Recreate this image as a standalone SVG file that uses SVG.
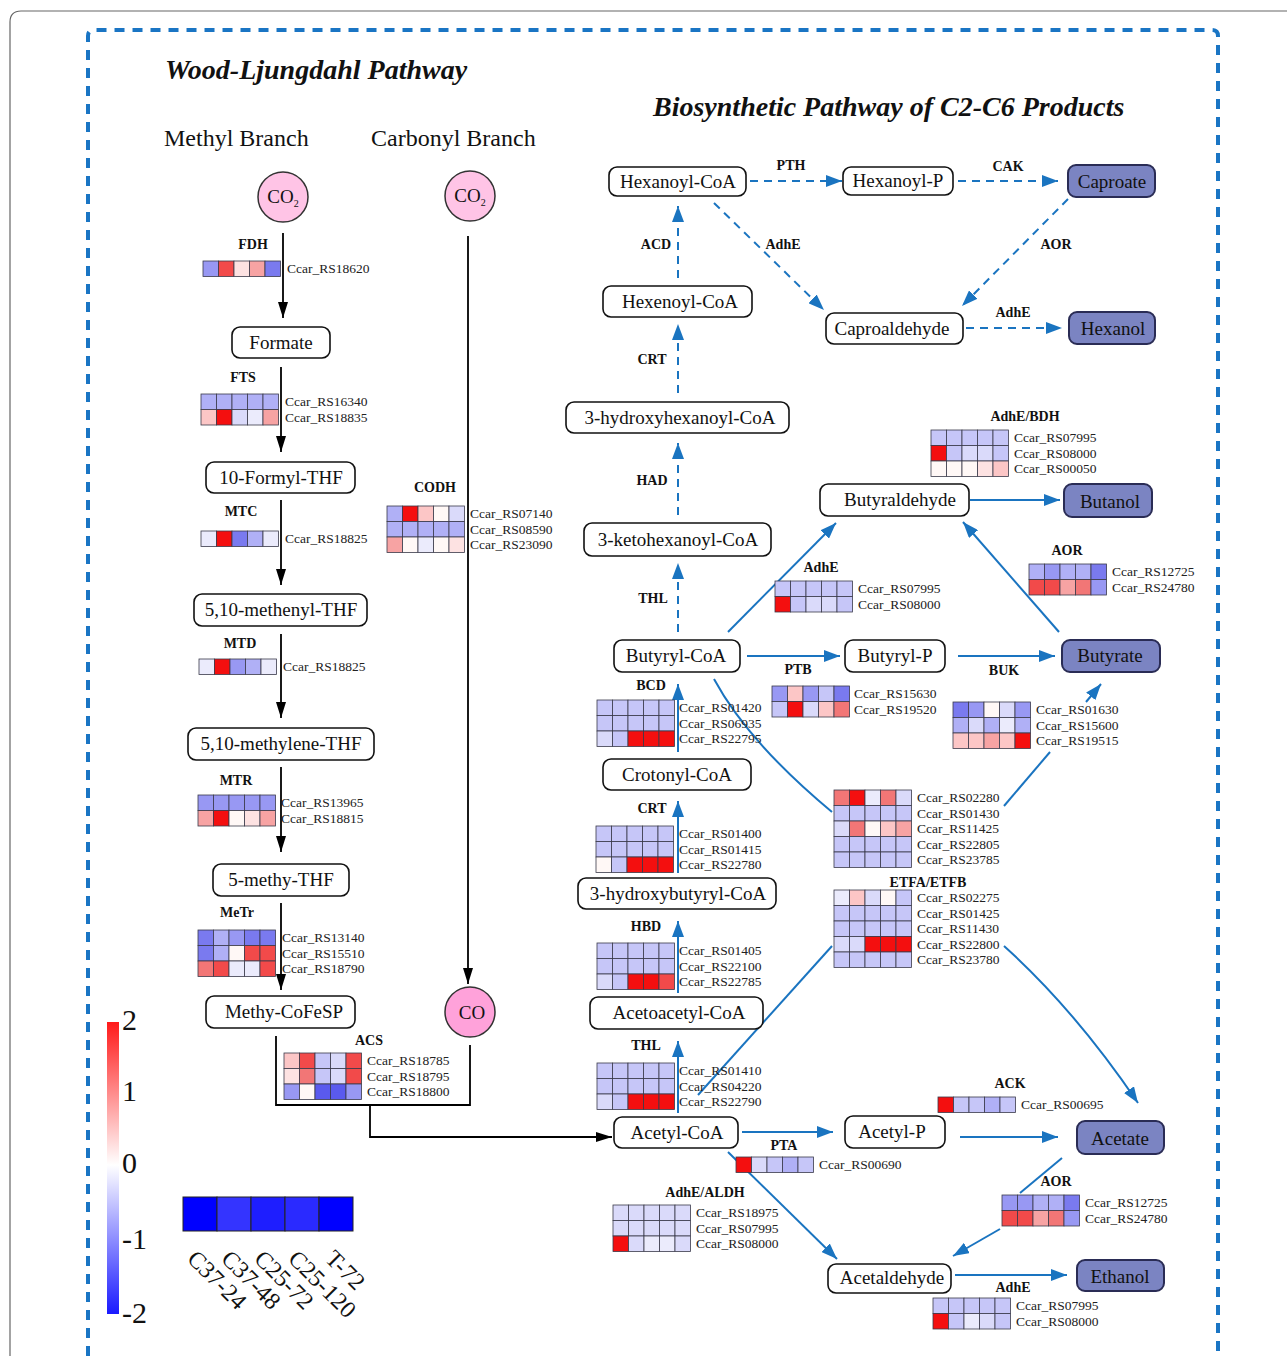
<svg xmlns="http://www.w3.org/2000/svg" width="1287" height="1356" viewBox="0 0 1287 1356">
<style>
.nt{font-family:"Liberation Serif",serif;font-size:19px;text-anchor:middle;fill:#111}
.box{fill:#fff;stroke:#111;stroke-width:1.6}
.prod{fill:#7b84c2;stroke:#2a2c55;stroke-width:2}
.g{font-family:"Liberation Serif",serif;font-size:13.5px;fill:#222}
.e{font-family:"Liberation Serif",serif;font-size:14px;font-weight:bold;text-anchor:middle;fill:#111}
.ttl{font-family:"Liberation Serif",serif;font-size:28px;font-weight:bold;font-style:italic;fill:#111}
.br{font-family:"Liberation Serif",serif;font-size:24px;fill:#111}
.blk{stroke:#000;stroke-width:1.8;fill:none}
.bl{stroke:#1a74c0;stroke-width:2;fill:none}
.dsh{stroke-dasharray:8 6}
.hm rect{stroke:#3a3a4a;stroke-width:0.8}
.R{fill:#f40f0f}.r1{fill:#f24a4a}.r2{fill:#f27676}.r3{fill:#f7a3a3}.r4{fill:#fcc6c6}.r5{fill:#fde2e2}
.w{fill:#fff8f6}.b5{fill:#ebebfc}.b4{fill:#dadafa}.b3{fill:#c6c6f8}.b2{fill:#b0b0f6}.b1{fill:#9898f3}.b0{fill:#7a7aef}.bb{fill:#5a5aee}
.leg{font-family:"Liberation Serif",serif;font-size:30px;fill:#111}
.lg{font-family:"Liberation Serif",serif;font-size:24px;fill:#111}
</style>
<defs>
<marker id="ak" viewBox="0 0 16 10" refX="16" refY="5" markerWidth="16" markerHeight="10" orient="auto" markerUnits="userSpaceOnUse"><path d="M0,0 L16,5 L0,10 z" fill="#000"/></marker>
<marker id="ab" viewBox="0 0 16 12" refX="16" refY="6" markerWidth="16" markerHeight="12" orient="auto" markerUnits="userSpaceOnUse"><path d="M0,0 L16,6 L0,12 z" fill="#1a74c0"/></marker>
<linearGradient id="lgd" x1="0" y1="0" x2="0" y2="1"><stop offset="0" stop-color="#ff1a1a"/><stop offset="0.49" stop-color="#ffffff"/><stop offset="1" stop-color="#1a1aff"/></linearGradient>
</defs>
<rect width="1287" height="1356" fill="#fff"/>
<path d="M10,1356 V22 Q10,11 21,11 H1287" fill="none" stroke="#666" stroke-width="1.2"/>
<path d="M88,1356 V36 Q88,30 94,30 H1212 Q1218,30 1218,36 V1356" fill="none" stroke="#1a75c4" stroke-width="4" stroke-dasharray="10 8"/>

<text class="ttl" x="165" y="79">Wood-Ljungdahl Pathway</text>
<text class="ttl" x="653" y="116">Biosynthetic Pathway of C2-C6 Products</text>
<text class="br" x="164" y="146">Methyl Branch</text>
<text class="br" x="371" y="146">Carbonyl Branch</text>

<g id="connectors">
<path class="blk" d="M283,233 V318" marker-end="url(#ak)"/>
<path class="blk" d="M281,367 V452" marker-end="url(#ak)"/>
<path class="blk" d="M281,500 V585" marker-end="url(#ak)"/>
<path class="blk" d="M281,634 V718" marker-end="url(#ak)"/>
<path class="blk" d="M281,767 V852" marker-end="url(#ak)"/>
<path class="blk" d="M281,903 V990" marker-end="url(#ak)"/>
<path class="blk" d="M468,236 V984" marker-end="url(#ak)"/>
<path class="blk" d="M276,1036 V1105 H470 V1045"/>
<path class="blk" d="M370,1105 V1137 H612" marker-end="url(#ak)"/>

<path class="bl dsh" d="M750,181 H842" marker-end="url(#ab)"/>
<path class="bl dsh" d="M958,181 H1058" marker-end="url(#ab)"/>
<path class="bl dsh" d="M1068,199 L962,306" marker-end="url(#ab)"/>
<path class="bl dsh" d="M714,203 L824,310" marker-end="url(#ab)"/>
<path class="bl dsh" d="M966,328 H1062" marker-end="url(#ab)"/>
<path class="bl dsh" d="M678,278 V206" marker-end="url(#ab)"/>
<path class="bl dsh" d="M678,393 V324" marker-end="url(#ab)"/>
<path class="bl dsh" d="M678,515 V443" marker-end="url(#ab)"/>
<path class="bl dsh" d="M678,632 V563" marker-end="url(#ab)"/>

<path class="bl" d="M728,632 L836,523" marker-end="url(#ab)"/>
<path class="bl" d="M1059,632 L963,522" marker-end="url(#ab)"/>
<path class="bl" d="M970,500 H1060" marker-end="url(#ab)"/>
<path class="bl" d="M747,656 H840" marker-end="url(#ab)"/>
<path class="bl" d="M958,656 H1055" marker-end="url(#ab)"/>
<path class="bl" d="M1004,806 L1050,752"/>
<path class="bl" d="M1086,702 L1101,684" marker-end="url(#ab)"/>
<path class="bl" d="M714,679 Q748,742 832,812"/>
<path class="bl" d="M678,752 V684" marker-end="url(#ab)"/>
<path class="bl" d="M678,873 V801" marker-end="url(#ab)"/>
<path class="bl" d="M678,993 V921" marker-end="url(#ab)"/>
<path class="bl" d="M678,1113 V1041" marker-end="url(#ab)"/>
<path class="bl" d="M698,1095 L832,946"/>
<path class="bl" d="M1004,946 Q1075,1010 1138,1103" marker-end="url(#ab)"/>
<path class="bl" d="M742,1132 H833" marker-end="url(#ab)"/>
<path class="bl" d="M960,1137 H1058" marker-end="url(#ab)"/>
<path class="bl" d="M1062,1158 L1020,1193"/>
<path class="bl" d="M1000,1229 L953,1256" marker-end="url(#ab)"/>
<path class="bl" d="M728,1152 L837,1259" marker-end="url(#ab)"/>
<path class="bl" d="M955,1275 H1067" marker-end="url(#ab)"/>
</g>

<g class="e">
<text x="791" y="170">PTH</text>
<text x="1008" y="171">CAK</text>
<text x="1056" y="249">AOR</text>
<text x="783" y="249">AdhE</text>
<text x="1013" y="317">AdhE</text>
<text x="656" y="249">ACD</text>
<text x="652" y="364">CRT</text>
<text x="652" y="485">HAD</text>
<text x="653" y="603">THL</text>
</g>

<!-- nodes -->
<g id="co2-methyl"><circle cx="283" cy="197" r="25" fill="#ffc4e6" stroke="#333" stroke-width="1.5"/><text class="nt" x="283" y="203">CO<tspan font-size="10" dy="4">2</tspan></text></g>
<g id="co2-carbonyl"><circle cx="470" cy="196" r="25" fill="#ffc4e6" stroke="#333" stroke-width="1.5"/><text class="nt" x="470" y="202">CO<tspan font-size="10" dy="4">2</tspan></text></g>
<g id="co"><circle cx="470" cy="1012" r="25" fill="#ffa2da" stroke="#333" stroke-width="1.5"/><text class="nt" x="472" y="1019">CO</text></g>
<g id="formate"><rect class="box" x="232" y="327" width="98" height="31" rx="8"/><text class="nt" x="281" y="349">Formate</text></g>
<g id="formyl-thf"><rect class="box" x="206" y="462" width="149" height="31" rx="8"/><text class="nt" x="281" y="484">10-Formyl-THF</text></g>
<g id="methenyl-thf"><rect class="box" x="194" y="594" width="173" height="32" rx="8"/><text class="nt" x="281" y="616">5,10-methenyl-THF</text></g>
<g id="methylene-thf"><rect class="box" x="188" y="728" width="186" height="32" rx="8"/><text class="nt" x="281" y="750">5,10-methylene-THF</text></g>
<g id="methy-thf"><rect class="box" x="213" y="864" width="136" height="32" rx="8"/><text class="nt" x="281" y="886">5-methy-THF</text></g>
<g id="methy-cofesp"><rect class="box" x="206" y="996" width="149" height="32" rx="8"/><text class="nt" x="284" y="1018">Methy-CoFeSP</text></g>

<g id="hexanoyl-coa"><rect class="box" x="609" y="167" width="137" height="29" rx="8"/><text class="nt" x="678" y="188">Hexanoyl-CoA</text></g>
<g id="hexanoyl-p"><rect class="box" x="843" y="167" width="110" height="28" rx="8"/><text class="nt" x="898" y="187">Hexanoyl-P</text></g>
<g id="caproate"><rect class="prod" x="1068" y="165" width="87" height="32" rx="8"/><text class="nt" x="1112" y="188">Caproate</text></g>
<g id="hexenoyl-coa"><rect class="box" x="603" y="286" width="149" height="31" rx="8"/><text class="nt" x="680" y="308">Hexenoyl-CoA</text></g>
<g id="caproaldehyde"><rect class="box" x="826" y="313" width="137" height="31" rx="8"/><text class="nt" x="892" y="335">Caproaldehyde</text></g>
<g id="hexanol"><rect class="prod" x="1069" y="312" width="86" height="32" rx="8"/><text class="nt" x="1113" y="335">Hexanol</text></g>
<g id="hydroxyhexanoyl-coa"><rect class="box" x="566" y="402" width="223" height="31" rx="8"/><text class="nt" x="680" y="424">3-hydroxyhexanoyl-CoA</text></g>
<g id="ketohexanoyl-coa"><rect class="box" x="584" y="523" width="187" height="33" rx="8"/><text class="nt" x="678" y="546">3-ketohexanoyl-CoA</text></g>
<g id="butyraldehyde"><rect class="box" x="820" y="484" width="149" height="32" rx="8"/><text class="nt" x="900" y="506">Butyraldehyde</text></g>
<g id="butanol"><rect class="prod" x="1064" y="484" width="88" height="33" rx="8"/><text class="nt" x="1110" y="508">Butanol</text></g>
<g id="butyryl-coa"><rect class="box" x="614" y="640" width="126" height="32" rx="8"/><text class="nt" x="676" y="662">Butyryl-CoA</text></g>
<g id="butyryl-p"><rect class="box" x="845" y="640" width="100" height="32" rx="8"/><text class="nt" x="895" y="662">Butyryl-P</text></g>
<g id="butyrate"><rect class="prod" x="1062" y="640" width="98" height="32" rx="8"/><text class="nt" x="1110" y="662">Butyrate</text></g>
<g id="crotonyl-coa"><rect class="box" x="603" y="759" width="148" height="31" rx="8"/><text class="nt" x="677" y="781">Crotonyl-CoA</text></g>
<g id="hydroxybutyryl-coa"><rect class="box" x="578" y="878" width="198" height="31" rx="8"/><text class="nt" x="678" y="900">3-hydroxybutyryl-CoA</text></g>
<g id="acetoacetyl-coa"><rect class="box" x="590" y="997" width="173" height="32" rx="8"/><text class="nt" x="679" y="1019">Acetoacetyl-CoA</text></g>
<g id="acetyl-coa"><rect class="box" x="614" y="1117" width="124" height="31" rx="8"/><text class="nt" x="677" y="1139">Acetyl-CoA</text></g>
<g id="acetyl-p"><rect class="box" x="845" y="1116" width="100" height="32" rx="8"/><text class="nt" x="892" y="1138">Acetyl-P</text></g>
<g id="acetate"><rect class="prod" x="1077" y="1121" width="87" height="33" rx="8"/><text class="nt" x="1120" y="1145">Acetate</text></g>
<g id="acetaldehyde"><rect class="box" x="828" y="1264" width="123" height="29" rx="8"/><text class="nt" x="892" y="1284">Acetaldehyde</text></g>
<g id="ethanol"><rect class="prod" x="1077" y="1260" width="87" height="31" rx="8"/><text class="nt" x="1120" y="1283">Ethanol</text></g>

<!-- heatmaps -->
<g id="hm-fdh" class="hm" transform="translate(203,261)">
<text class="e" x="50" y="-12">FDH</text>
<rect x="0" y="0" width="15.5" height="15.5" class="b1"/><rect x="15.5" y="0" width="15.5" height="15.5" class="r1"/><rect x="31" y="0" width="15.5" height="15.5" class="r5"/><rect x="46.5" y="0" width="15.5" height="15.5" class="r3"/><rect x="62" y="0" width="15.5" height="15.5" class="b0"/>
<text class="g" x="84" y="12">Ccar_RS18620</text>
</g>
<g id="hm-fts" class="hm" transform="translate(201,394)">
<text class="e" x="42" y="-12">FTS</text>
<rect x="0" y="0" width="15.5" height="15.5" class="b2"/><rect x="15.5" y="0" width="15.5" height="15.5" class="b2"/><rect x="31" y="0" width="15.5" height="15.5" class="b2"/><rect x="46.5" y="0" width="15.5" height="15.5" class="b2"/><rect x="62" y="0" width="15.5" height="15.5" class="b2"/>
<rect x="0" y="15.5" width="15.5" height="15.5" class="r4"/><rect x="15.5" y="15.5" width="15.5" height="15.5" class="R"/><rect x="31" y="15.5" width="15.5" height="15.5" class="b4"/><rect x="46.5" y="15.5" width="15.5" height="15.5" class="b5"/><rect x="62" y="15.5" width="15.5" height="15.5" class="r3"/>
<text class="g" x="84" y="12">Ccar_RS16340</text><text class="g" x="84" y="27.5">Ccar_RS18835</text>
</g>
<g id="hm-mtc" class="hm" transform="translate(201,531)">
<text class="e" x="40" y="-15">MTC</text>
<rect x="0" y="0" width="15.5" height="15.5" class="b5"/><rect x="15.5" y="0" width="15.5" height="15.5" class="R"/><rect x="31" y="0" width="15.5" height="15.5" class="b0"/><rect x="46.5" y="0" width="15.5" height="15.5" class="b2"/><rect x="62" y="0" width="15.5" height="15.5" class="b5"/>
<text class="g" x="84" y="12">Ccar_RS18825</text>
</g>
<g id="hm-codh" class="hm" transform="translate(387,506)">
<text class="e" x="48" y="-14">CODH</text>
<rect x="0" y="0" width="15.5" height="15.5" class="b2"/><rect x="15.5" y="0" width="15.5" height="15.5" class="R"/><rect x="31" y="0" width="15.5" height="15.5" class="r4"/><rect x="46.5" y="0" width="15.5" height="15.5" class="w"/><rect x="62" y="0" width="15.5" height="15.5" class="b4"/>
<rect x="0" y="15.5" width="15.5" height="15.5" class="b2"/><rect x="15.5" y="15.5" width="15.5" height="15.5" class="b2"/><rect x="31" y="15.5" width="15.5" height="15.5" class="b2"/><rect x="46.5" y="15.5" width="15.5" height="15.5" class="b2"/><rect x="62" y="15.5" width="15.5" height="15.5" class="b2"/>
<rect x="0" y="31" width="15.5" height="15.5" class="r3"/><rect x="15.5" y="31" width="15.5" height="15.5" class="w"/><rect x="31" y="31" width="15.5" height="15.5" class="b5"/><rect x="46.5" y="31" width="15.5" height="15.5" class="w"/><rect x="62" y="31" width="15.5" height="15.5" class="r5"/>
<text class="g" x="83" y="12">Ccar_RS07140</text><text class="g" x="83" y="27.5">Ccar_RS08590</text><text class="g" x="83" y="43">Ccar_RS23090</text>
</g>
<g id="hm-mtd" class="hm" transform="translate(199,659)">
<text class="e" x="41" y="-11">MTD</text>
<rect x="0" y="0" width="15.5" height="15.5" class="b5"/><rect x="15.5" y="0" width="15.5" height="15.5" class="R"/><rect x="31" y="0" width="15.5" height="15.5" class="b1"/><rect x="46.5" y="0" width="15.5" height="15.5" class="b2"/><rect x="62" y="0" width="15.5" height="15.5" class="b5"/>
<text class="g" x="84" y="12">Ccar_RS18825</text>
</g>
<g id="hm-mtr" class="hm" transform="translate(198,795)">
<text class="e" x="38" y="-10">MTR</text>
<rect x="0" y="0" width="15.5" height="15.5" class="b1"/><rect x="15.5" y="0" width="15.5" height="15.5" class="b1"/><rect x="31" y="0" width="15.5" height="15.5" class="b1"/><rect x="46.5" y="0" width="15.5" height="15.5" class="b1"/><rect x="62" y="0" width="15.5" height="15.5" class="b1"/>
<rect x="0" y="15.5" width="15.5" height="15.5" class="r3"/><rect x="15.5" y="15.5" width="15.5" height="15.5" class="R"/><rect x="31" y="15.5" width="15.5" height="15.5" class="w"/><rect x="46.5" y="15.5" width="15.5" height="15.5" class="r5"/><rect x="62" y="15.5" width="15.5" height="15.5" class="r3"/>
<text class="g" x="83" y="12">Ccar_RS13965</text><text class="g" x="83" y="27.5">Ccar_RS18815</text>
</g>
<g id="hm-metr" class="hm" transform="translate(198,930)">
<text class="e" x="39" y="-13">MeTr</text>
<rect x="0" y="0" width="15.5" height="15.5" class="b0"/><rect x="15.5" y="0" width="15.5" height="15.5" class="b2"/><rect x="31" y="0" width="15.5" height="15.5" class="b1"/><rect x="46.5" y="0" width="15.5" height="15.5" class="b0"/><rect x="62" y="0" width="15.5" height="15.5" class="b0"/>
<rect x="0" y="15.5" width="15.5" height="15.5" class="b0"/><rect x="15.5" y="15.5" width="15.5" height="15.5" class="b2"/><rect x="31" y="15.5" width="15.5" height="15.5" class="w"/><rect x="46.5" y="15.5" width="15.5" height="15.5" class="r1"/><rect x="62" y="15.5" width="15.5" height="15.5" class="r1"/>
<rect x="0" y="31" width="15.5" height="15.5" class="r2"/><rect x="15.5" y="31" width="15.5" height="15.5" class="r1"/><rect x="31" y="31" width="15.5" height="15.5" class="b5"/><rect x="46.5" y="31" width="15.5" height="15.5" class="b5"/><rect x="62" y="31" width="15.5" height="15.5" class="r1"/>
<text class="g" x="84" y="12">Ccar_RS13140</text><text class="g" x="84" y="27.5">Ccar_RS15510</text><text class="g" x="84" y="43">Ccar_RS18790</text>
</g>
<g id="hm-acs" class="hm" transform="translate(284,1053)">
<text class="e" x="85" y="-8">ACS</text>
<rect x="0" y="0" width="15.5" height="15.5" class="r4"/><rect x="15.5" y="0" width="15.5" height="15.5" class="r1"/><rect x="31" y="0" width="15.5" height="15.5" class="b3"/><rect x="46.5" y="0" width="15.5" height="15.5" class="b4"/><rect x="62" y="0" width="15.5" height="15.5" class="r1"/>
<rect x="0" y="15.5" width="15.5" height="15.5" class="r5"/><rect x="15.5" y="15.5" width="15.5" height="15.5" class="r2"/><rect x="31" y="15.5" width="15.5" height="15.5" class="b3"/><rect x="46.5" y="15.5" width="15.5" height="15.5" class="b4"/><rect x="62" y="15.5" width="15.5" height="15.5" class="r1"/>
<rect x="0" y="31" width="15.5" height="15.5" class="b1"/><rect x="15.5" y="31" width="15.5" height="15.5" class="w"/><rect x="31" y="31" width="15.5" height="15.5" class="bb"/><rect x="46.5" y="31" width="15.5" height="15.5" class="bb"/><rect x="62" y="31" width="15.5" height="15.5" class="b1"/>
<text class="g" x="83" y="12">Ccar_RS18785</text><text class="g" x="83" y="27.5">Ccar_RS18795</text><text class="g" x="83" y="43">Ccar_RS18800</text>
</g>
<g id="hm-bdh" class="hm" transform="translate(931,430)">
<text class="e" x="94" y="-9">AdhE/BDH</text>
<rect x="0" y="0" width="15.5" height="15.5" class="b3"/><rect x="15.5" y="0" width="15.5" height="15.5" class="b3"/><rect x="31" y="0" width="15.5" height="15.5" class="b3"/><rect x="46.5" y="0" width="15.5" height="15.5" class="b3"/><rect x="62" y="0" width="15.5" height="15.5" class="b3"/>
<rect x="0" y="15.5" width="15.5" height="15.5" class="R"/><rect x="15.5" y="15.5" width="15.5" height="15.5" class="b3"/><rect x="31" y="15.5" width="15.5" height="15.5" class="b4"/><rect x="46.5" y="15.5" width="15.5" height="15.5" class="b4"/><rect x="62" y="15.5" width="15.5" height="15.5" class="b3"/>
<rect x="0" y="31" width="15.5" height="15.5" class="w"/><rect x="15.5" y="31" width="15.5" height="15.5" class="w"/><rect x="31" y="31" width="15.5" height="15.5" class="w"/><rect x="46.5" y="31" width="15.5" height="15.5" class="r5"/><rect x="62" y="31" width="15.5" height="15.5" class="r4"/>
<text class="g" x="83" y="12">Ccar_RS07995</text><text class="g" x="83" y="27.5">Ccar_RS08000</text><text class="g" x="83" y="43">Ccar_RS00050</text>
</g>
<g id="hm-adhe-bu" class="hm" transform="translate(775,581)">
<text class="e" x="46" y="-9">AdhE</text>
<rect x="0" y="0" width="15.5" height="15.5" class="b3"/><rect x="15.5" y="0" width="15.5" height="15.5" class="b3"/><rect x="31" y="0" width="15.5" height="15.5" class="b3"/><rect x="46.5" y="0" width="15.5" height="15.5" class="b3"/><rect x="62" y="0" width="15.5" height="15.5" class="b3"/>
<rect x="0" y="15.5" width="15.5" height="15.5" class="R"/><rect x="15.5" y="15.5" width="15.5" height="15.5" class="b3"/><rect x="31" y="15.5" width="15.5" height="15.5" class="b4"/><rect x="46.5" y="15.5" width="15.5" height="15.5" class="b4"/><rect x="62" y="15.5" width="15.5" height="15.5" class="b3"/>
<text class="g" x="83" y="12">Ccar_RS07995</text><text class="g" x="83" y="27.5">Ccar_RS08000</text>
</g>
<g id="hm-aor-bu" class="hm" transform="translate(1029,564)">
<text class="e" x="38" y="-9">AOR</text>
<rect x="0" y="0" width="15.5" height="15.5" class="b2"/><rect x="15.5" y="0" width="15.5" height="15.5" class="b1"/><rect x="31" y="0" width="15.5" height="15.5" class="b2"/><rect x="46.5" y="0" width="15.5" height="15.5" class="b2"/><rect x="62" y="0" width="15.5" height="15.5" class="b0"/>
<rect x="0" y="15.5" width="15.5" height="15.5" class="r1"/><rect x="15.5" y="15.5" width="15.5" height="15.5" class="r1"/><rect x="31" y="15.5" width="15.5" height="15.5" class="r3"/><rect x="46.5" y="15.5" width="15.5" height="15.5" class="r2"/><rect x="62" y="15.5" width="15.5" height="15.5" class="b1"/>
<text class="g" x="83" y="12">Ccar_RS12725</text><text class="g" x="83" y="27.5">Ccar_RS24780</text>
</g>
<g id="hm-ptb" class="hm" transform="translate(772,686)">
<text class="e" x="26" y="-12">PTB</text>
<rect x="0" y="0" width="15.5" height="15.5" class="b1"/><rect x="15.5" y="0" width="15.5" height="15.5" class="r4"/><rect x="31" y="0" width="15.5" height="15.5" class="b1"/><rect x="46.5" y="0" width="15.5" height="15.5" class="b3"/><rect x="62" y="0" width="15.5" height="15.5" class="b0"/>
<rect x="0" y="15.5" width="15.5" height="15.5" class="b3"/><rect x="15.5" y="15.5" width="15.5" height="15.5" class="R"/><rect x="31" y="15.5" width="15.5" height="15.5" class="b4"/><rect x="46.5" y="15.5" width="15.5" height="15.5" class="r4"/><rect x="62" y="15.5" width="15.5" height="15.5" class="r2"/>
<text class="g" x="82" y="12">Ccar_RS15630</text><text class="g" x="82" y="27.5">Ccar_RS19520</text>
</g>
<g id="hm-buk" class="hm" transform="translate(953,702)">
<text class="e" x="51" y="-27">BUK</text>
<rect x="0" y="0" width="15.5" height="15.5" class="b0"/><rect x="15.5" y="0" width="15.5" height="15.5" class="b1"/><rect x="31" y="0" width="15.5" height="15.5" class="w"/><rect x="46.5" y="0" width="15.5" height="15.5" class="b4"/><rect x="62" y="0" width="15.5" height="15.5" class="b1"/>
<rect x="0" y="15.5" width="15.5" height="15.5" class="b2"/><rect x="15.5" y="15.5" width="15.5" height="15.5" class="b4"/><rect x="31" y="15.5" width="15.5" height="15.5" class="b2"/><rect x="46.5" y="15.5" width="15.5" height="15.5" class="b5"/><rect x="62" y="15.5" width="15.5" height="15.5" class="b2"/>
<rect x="0" y="31" width="15.5" height="15.5" class="r4"/><rect x="15.5" y="31" width="15.5" height="15.5" class="r4"/><rect x="31" y="31" width="15.5" height="15.5" class="r3"/><rect x="46.5" y="31" width="15.5" height="15.5" class="r4"/><rect x="62" y="31" width="15.5" height="15.5" class="R"/>
<text class="g" x="83" y="12">Ccar_RS01630</text><text class="g" x="83" y="27.5">Ccar_RS15600</text><text class="g" x="83" y="43">Ccar_RS19515</text>
</g>
<g id="hm-bcd" class="hm" transform="translate(597,700)">
<text class="e" x="54" y="-10">BCD</text>
<rect x="0" y="0" width="15.5" height="15.5" class="b3"/><rect x="15.5" y="0" width="15.5" height="15.5" class="b3"/><rect x="31" y="0" width="15.5" height="15.5" class="b3"/><rect x="46.5" y="0" width="15.5" height="15.5" class="b3"/><rect x="62" y="0" width="15.5" height="15.5" class="b3"/>
<rect x="0" y="15.5" width="15.5" height="15.5" class="b3"/><rect x="15.5" y="15.5" width="15.5" height="15.5" class="b3"/><rect x="31" y="15.5" width="15.5" height="15.5" class="b3"/><rect x="46.5" y="15.5" width="15.5" height="15.5" class="b3"/><rect x="62" y="15.5" width="15.5" height="15.5" class="b3"/>
<rect x="0" y="31" width="15.5" height="15.5" class="b4"/><rect x="15.5" y="31" width="15.5" height="15.5" class="b3"/><rect x="31" y="31" width="15.5" height="15.5" class="R"/><rect x="46.5" y="31" width="15.5" height="15.5" class="R"/><rect x="62" y="31" width="15.5" height="15.5" class="R"/>
<text class="g" x="82" y="12">Ccar_RS01420</text><text class="g" x="82" y="27.5">Ccar_RS06935</text><text class="g" x="82" y="43">Ccar_RS22795</text>
</g>
<g id="hm-crt" class="hm" transform="translate(596,826)">
<text class="e" x="56" y="-13">CRT</text>
<rect x="0" y="0" width="15.5" height="15.5" class="b3"/><rect x="15.5" y="0" width="15.5" height="15.5" class="b3"/><rect x="31" y="0" width="15.5" height="15.5" class="b3"/><rect x="46.5" y="0" width="15.5" height="15.5" class="b3"/><rect x="62" y="0" width="15.5" height="15.5" class="b3"/>
<rect x="0" y="15.5" width="15.5" height="15.5" class="b3"/><rect x="15.5" y="15.5" width="15.5" height="15.5" class="b3"/><rect x="31" y="15.5" width="15.5" height="15.5" class="b3"/><rect x="46.5" y="15.5" width="15.5" height="15.5" class="b3"/><rect x="62" y="15.5" width="15.5" height="15.5" class="b3"/>
<rect x="0" y="31" width="15.5" height="15.5" class="w"/><rect x="15.5" y="31" width="15.5" height="15.5" class="b3"/><rect x="31" y="31" width="15.5" height="15.5" class="R"/><rect x="46.5" y="31" width="15.5" height="15.5" class="R"/><rect x="62" y="31" width="15.5" height="15.5" class="R"/>
<text class="g" x="83" y="12">Ccar_RS01400</text><text class="g" x="83" y="27.5">Ccar_RS01415</text><text class="g" x="83" y="43">Ccar_RS22780</text>
</g>
<g id="hm-etf1" class="hm" transform="translate(834,790)">
<rect x="0" y="0" width="15.5" height="15.5" class="r2"/><rect x="15.5" y="0" width="15.5" height="15.5" class="R"/><rect x="31" y="0" width="15.5" height="15.5" class="b5"/><rect x="46.5" y="0" width="15.5" height="15.5" class="r2"/><rect x="62" y="0" width="15.5" height="15.5" class="b4"/>
<rect x="0" y="15.5" width="15.5" height="15.5" class="b3"/><rect x="15.5" y="15.5" width="15.5" height="15.5" class="b3"/><rect x="31" y="15.5" width="15.5" height="15.5" class="b3"/><rect x="46.5" y="15.5" width="15.5" height="15.5" class="b3"/><rect x="62" y="15.5" width="15.5" height="15.5" class="b3"/>
<rect x="0" y="31" width="15.5" height="15.5" class="b4"/><rect x="15.5" y="31" width="15.5" height="15.5" class="r2"/><rect x="31" y="31" width="15.5" height="15.5" class="w"/><rect x="46.5" y="31" width="15.5" height="15.5" class="r4"/><rect x="62" y="31" width="15.5" height="15.5" class="r3"/>
<rect x="0" y="46.5" width="15.5" height="15.5" class="b3"/><rect x="15.5" y="46.5" width="15.5" height="15.5" class="b3"/><rect x="31" y="46.5" width="15.5" height="15.5" class="b3"/><rect x="46.5" y="46.5" width="15.5" height="15.5" class="b3"/><rect x="62" y="46.5" width="15.5" height="15.5" class="b3"/>
<rect x="0" y="62" width="15.5" height="15.5" class="b3"/><rect x="15.5" y="62" width="15.5" height="15.5" class="b3"/><rect x="31" y="62" width="15.5" height="15.5" class="b3"/><rect x="46.5" y="62" width="15.5" height="15.5" class="b3"/><rect x="62" y="62" width="15.5" height="15.5" class="b3"/>
<text class="g" x="83" y="12">Ccar_RS02280</text><text class="g" x="83" y="27.5">Ccar_RS01430</text><text class="g" x="83" y="43">Ccar_RS11425</text><text class="g" x="83" y="58.5">Ccar_RS22805</text><text class="g" x="83" y="74">Ccar_RS23785</text>
</g>
<g id="hm-etf2" class="hm" transform="translate(834,890)">
<text class="e" x="94" y="-3">ETFA/ETFB</text>
<rect x="0" y="0" width="15.5" height="15.5" class="b5"/><rect x="15.5" y="0" width="15.5" height="15.5" class="r4"/><rect x="31" y="0" width="15.5" height="15.5" class="b4"/><rect x="46.5" y="0" width="15.5" height="15.5" class="w"/><rect x="62" y="0" width="15.5" height="15.5" class="b3"/>
<rect x="0" y="15.5" width="15.5" height="15.5" class="b3"/><rect x="15.5" y="15.5" width="15.5" height="15.5" class="b3"/><rect x="31" y="15.5" width="15.5" height="15.5" class="b3"/><rect x="46.5" y="15.5" width="15.5" height="15.5" class="b3"/><rect x="62" y="15.5" width="15.5" height="15.5" class="b3"/>
<rect x="0" y="31" width="15.5" height="15.5" class="b3"/><rect x="15.5" y="31" width="15.5" height="15.5" class="b3"/><rect x="31" y="31" width="15.5" height="15.5" class="b3"/><rect x="46.5" y="31" width="15.5" height="15.5" class="b3"/><rect x="62" y="31" width="15.5" height="15.5" class="b3"/>
<rect x="0" y="46.5" width="15.5" height="15.5" class="b4"/><rect x="15.5" y="46.5" width="15.5" height="15.5" class="b4"/><rect x="31" y="46.5" width="15.5" height="15.5" class="R"/><rect x="46.5" y="46.5" width="15.5" height="15.5" class="R"/><rect x="62" y="46.5" width="15.5" height="15.5" class="R"/>
<rect x="0" y="62" width="15.5" height="15.5" class="b3"/><rect x="15.5" y="62" width="15.5" height="15.5" class="b3"/><rect x="31" y="62" width="15.5" height="15.5" class="b3"/><rect x="46.5" y="62" width="15.5" height="15.5" class="b3"/><rect x="62" y="62" width="15.5" height="15.5" class="b3"/>
<text class="g" x="83" y="12">Ccar_RS02275</text><text class="g" x="83" y="27.5">Ccar_RS01425</text><text class="g" x="83" y="43">Ccar_RS11430</text><text class="g" x="83" y="58.5">Ccar_RS22800</text><text class="g" x="83" y="74">Ccar_RS23780</text>
</g>
<g id="hm-hbd" class="hm" transform="translate(597,943)">
<text class="e" x="49" y="-12">HBD</text>
<rect x="0" y="0" width="15.5" height="15.5" class="b3"/><rect x="15.5" y="0" width="15.5" height="15.5" class="b3"/><rect x="31" y="0" width="15.5" height="15.5" class="b3"/><rect x="46.5" y="0" width="15.5" height="15.5" class="b3"/><rect x="62" y="0" width="15.5" height="15.5" class="b3"/>
<rect x="0" y="15.5" width="15.5" height="15.5" class="b3"/><rect x="15.5" y="15.5" width="15.5" height="15.5" class="b3"/><rect x="31" y="15.5" width="15.5" height="15.5" class="b3"/><rect x="46.5" y="15.5" width="15.5" height="15.5" class="b3"/><rect x="62" y="15.5" width="15.5" height="15.5" class="b3"/>
<rect x="0" y="31" width="15.5" height="15.5" class="b4"/><rect x="15.5" y="31" width="15.5" height="15.5" class="b3"/><rect x="31" y="31" width="15.5" height="15.5" class="R"/><rect x="46.5" y="31" width="15.5" height="15.5" class="R"/><rect x="62" y="31" width="15.5" height="15.5" class="r1"/>
<text class="g" x="82" y="12">Ccar_RS01405</text><text class="g" x="82" y="27.5">Ccar_RS22100</text><text class="g" x="82" y="43">Ccar_RS22785</text>
</g>
<g id="hm-thl" class="hm" transform="translate(597,1063)">
<text class="e" x="49" y="-13">THL</text>
<rect x="0" y="0" width="15.5" height="15.5" class="b3"/><rect x="15.5" y="0" width="15.5" height="15.5" class="b3"/><rect x="31" y="0" width="15.5" height="15.5" class="b3"/><rect x="46.5" y="0" width="15.5" height="15.5" class="b3"/><rect x="62" y="0" width="15.5" height="15.5" class="b3"/>
<rect x="0" y="15.5" width="15.5" height="15.5" class="b3"/><rect x="15.5" y="15.5" width="15.5" height="15.5" class="b3"/><rect x="31" y="15.5" width="15.5" height="15.5" class="b3"/><rect x="46.5" y="15.5" width="15.5" height="15.5" class="b3"/><rect x="62" y="15.5" width="15.5" height="15.5" class="b3"/>
<rect x="0" y="31" width="15.5" height="15.5" class="b4"/><rect x="15.5" y="31" width="15.5" height="15.5" class="b3"/><rect x="31" y="31" width="15.5" height="15.5" class="R"/><rect x="46.5" y="31" width="15.5" height="15.5" class="R"/><rect x="62" y="31" width="15.5" height="15.5" class="R"/>
<text class="g" x="82" y="12">Ccar_RS01410</text><text class="g" x="82" y="27.5">Ccar_RS04220</text><text class="g" x="82" y="43">Ccar_RS22790</text>
</g>
<g id="hm-ack" class="hm" transform="translate(938,1097)">
<text class="e" x="72" y="-9">ACK</text>
<rect x="0" y="0" width="15.5" height="15.5" class="R"/><rect x="15.5" y="0" width="15.5" height="15.5" class="b3"/><rect x="31" y="0" width="15.5" height="15.5" class="b3"/><rect x="46.5" y="0" width="15.5" height="15.5" class="b2"/><rect x="62" y="0" width="15.5" height="15.5" class="b3"/>
<text class="g" x="83" y="12">Ccar_RS00695</text>
</g>
<g id="hm-pta" class="hm" transform="translate(736,1157)">
<text class="e" x="48" y="-7">PTA</text>
<rect x="0" y="0" width="15.5" height="15.5" class="R"/><rect x="15.5" y="0" width="15.5" height="15.5" class="b4"/><rect x="31" y="0" width="15.5" height="15.5" class="b3"/><rect x="46.5" y="0" width="15.5" height="15.5" class="b2"/><rect x="62" y="0" width="15.5" height="15.5" class="b3"/>
<text class="g" x="83" y="12">Ccar_RS00690</text>
</g>
<g id="hm-aldh" class="hm" transform="translate(613,1205)">
<text class="e" x="92" y="-8">AdhE/ALDH</text>
<rect x="0" y="0" width="15.5" height="15.5" class="b4"/><rect x="15.5" y="0" width="15.5" height="15.5" class="b4"/><rect x="31" y="0" width="15.5" height="15.5" class="b4"/><rect x="46.5" y="0" width="15.5" height="15.5" class="b4"/><rect x="62" y="0" width="15.5" height="15.5" class="b4"/>
<rect x="0" y="15.5" width="15.5" height="15.5" class="b4"/><rect x="15.5" y="15.5" width="15.5" height="15.5" class="b4"/><rect x="31" y="15.5" width="15.5" height="15.5" class="b4"/><rect x="46.5" y="15.5" width="15.5" height="15.5" class="b4"/><rect x="62" y="15.5" width="15.5" height="15.5" class="b4"/>
<rect x="0" y="31" width="15.5" height="15.5" class="R"/><rect x="15.5" y="31" width="15.5" height="15.5" class="b4"/><rect x="31" y="31" width="15.5" height="15.5" class="b5"/><rect x="46.5" y="31" width="15.5" height="15.5" class="b5"/><rect x="62" y="31" width="15.5" height="15.5" class="b4"/>
<text class="g" x="83" y="12">Ccar_RS18975</text><text class="g" x="83" y="27.5">Ccar_RS07995</text><text class="g" x="83" y="43">Ccar_RS08000</text>
</g>
<g id="hm-aor-ac" class="hm" transform="translate(1002,1195)">
<text class="e" x="54" y="-9">AOR</text>
<rect x="0" y="0" width="15.5" height="15.5" class="b1"/><rect x="15.5" y="0" width="15.5" height="15.5" class="b1"/><rect x="31" y="0" width="15.5" height="15.5" class="b2"/><rect x="46.5" y="0" width="15.5" height="15.5" class="b2"/><rect x="62" y="0" width="15.5" height="15.5" class="b0"/>
<rect x="0" y="15.5" width="15.5" height="15.5" class="r1"/><rect x="15.5" y="15.5" width="15.5" height="15.5" class="r1"/><rect x="31" y="15.5" width="15.5" height="15.5" class="r3"/><rect x="46.5" y="15.5" width="15.5" height="15.5" class="r2"/><rect x="62" y="15.5" width="15.5" height="15.5" class="b1"/>
<text class="g" x="83" y="12">Ccar_RS12725</text><text class="g" x="83" y="27.5">Ccar_RS24780</text>
</g>
<g id="hm-adhe-et" class="hm" transform="translate(933,1298)">
<text class="e" x="80" y="-6">AdhE</text>
<rect x="0" y="0" width="15.5" height="15.5" class="b3"/><rect x="15.5" y="0" width="15.5" height="15.5" class="b3"/><rect x="31" y="0" width="15.5" height="15.5" class="b3"/><rect x="46.5" y="0" width="15.5" height="15.5" class="b3"/><rect x="62" y="0" width="15.5" height="15.5" class="b3"/>
<rect x="0" y="15.5" width="15.5" height="15.5" class="R"/><rect x="15.5" y="15.5" width="15.5" height="15.5" class="b3"/><rect x="31" y="15.5" width="15.5" height="15.5" class="b5"/><rect x="46.5" y="15.5" width="15.5" height="15.5" class="b4"/><rect x="62" y="15.5" width="15.5" height="15.5" class="b3"/>
<text class="g" x="83" y="12">Ccar_RS07995</text><text class="g" x="83" y="27.5">Ccar_RS08000</text>
</g>

<!-- legend -->
<g id="legend">
<rect x="107" y="1022" width="12" height="292" fill="url(#lgd)"/>
<text class="leg" x="122" y="1030">2</text>
<text class="leg" x="122" y="1101">1</text>
<text class="leg" x="122" y="1173">0</text>
<text class="leg" x="122" y="1249">-1</text>
<text class="leg" x="122" y="1323">-2</text>
<g stroke="#222" stroke-width="1">
<rect x="183" y="1197" width="34" height="34" fill="#0000ff"/>
<rect x="217" y="1197" width="34" height="34" fill="#3434ff"/>
<rect x="251" y="1197" width="34" height="34" fill="#1e1eff"/>
<rect x="285" y="1197" width="34" height="34" fill="#2a2aff"/>
<rect x="319" y="1197" width="34" height="34" fill="#0000ff"/>
</g>
<text class="lg" transform="translate(186,1260) rotate(45)">C37-24</text>
<text class="lg" transform="translate(220,1260) rotate(45)">C37-48</text>
<text class="lg" transform="translate(253,1260) rotate(45)">C25-72</text>
<text class="lg" transform="translate(287,1260) rotate(45)">C25-120</text>
<text class="lg" transform="translate(324,1260) rotate(45)">T-72</text>
</g>
</svg>
